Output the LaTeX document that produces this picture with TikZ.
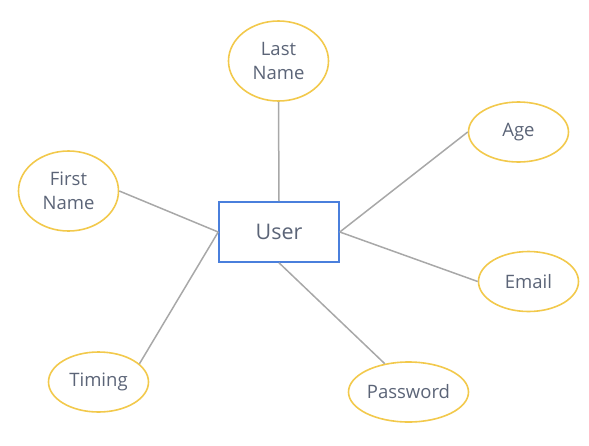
\documentclass[tikz,border=0pt]{standalone}
\usepackage{fontspec}
\setmainfont{Open Sans}
\usetikzlibrary{shapes.geometric}
\definecolor{txtgray}{HTML}{5B6477}
\definecolor{attryellow}{HTML}{F2C94C}
\definecolor{entblue}{HTML}{4A7FDC}
\definecolor{linkgray}{HTML}{A8A8A8}

\begin{document}
\begin{tikzpicture}[x=1pt, y=-1pt,
      entity/.style={rectangle, draw=entblue, line width=1.6pt, minimum width=120pt, minimum height=60pt, text=txtgray, font=\fontsize{21.5}{24}\selectfont},
      attr/.style={ellipse, draw=attryellow, line width=1.6pt, minimum width=100pt, minimum height=60pt, inner sep=0pt, text=txtgray, align=center, font=\fontsize{18.5}{24.5}\selectfont},
      link/.style={draw=linkgray, line width=1.5pt},
    ]
      \useasboundingbox (0,0) rectangle (589,445);
      \node[entity] (user) at (279,232) {User};
      \node[attr, minimum height=80pt] (lastname)  at (278.5,61)  {Last\\Name};
      \node[attr, minimum height=80pt] (firstname) at (68.5,191)  {First\\Name};
      \node[attr] (age)      at (518.5,132) {Age};
      \node[attr] (email)    at (528.5,281.5) {Email};
      \node[attr] (timing)   at (98.5,382)  {Timing};
      \node[attr, minimum width=120pt] (password) at (408.5,392) {Password};
      \draw[link] (lastname.south) -- (user.north);
      \draw[link] (firstname.east) -- (user.west);
      \draw[link] (timing.24) -- (user.west);
      \draw[link] (age.west) -- (user.east);
      \draw[link] (email.west) -- (user.east);
      \draw[link] (password.130) -- (user.south);
    \end{tikzpicture}
\end{document}
